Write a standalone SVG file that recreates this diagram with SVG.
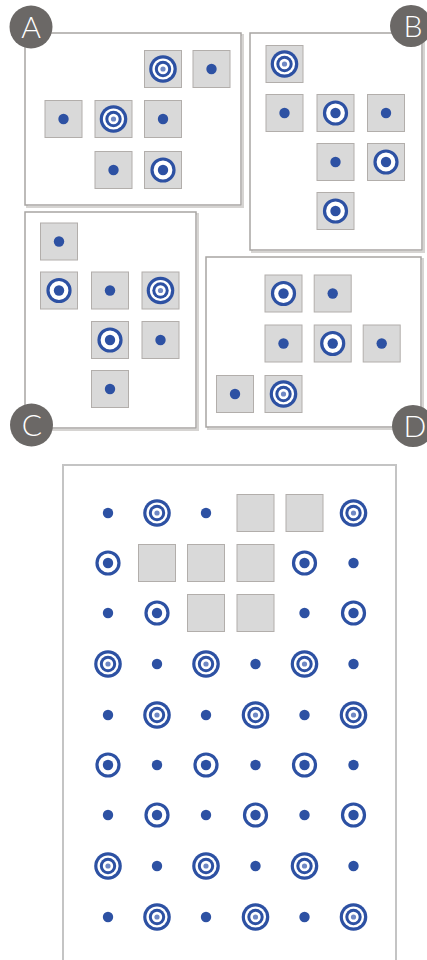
<svg xmlns="http://www.w3.org/2000/svg" xmlns:xlink="http://www.w3.org/1999/xlink" width="427" height="960" viewBox="0 0 427 960">
<style>
.frame{fill:#fff;stroke:#a8a5a3;stroke-width:1.5}
.shadow{fill:none;stroke:#d6d4d2;stroke-width:2}
.sq{fill:#d9d9d9;stroke:#b2aeab;stroke-width:1}
.badge{fill:#6b6866}
.lbl{fill:#fff;font-family:Lato,"Open Sans",sans-serif;font-size:30px;font-weight:300;text-anchor:middle}
.big{fill:#fff;stroke:#c4c4c4;stroke-width:2}
</style>
<defs>
<g id="dot"><circle r="5.2" fill="#2d51a3"/></g>
<g id="tgt"><circle r="11" fill="#fff" stroke="#2d51a3" stroke-width="3.2"/><circle r="5.2" fill="#2d51a3"/></g>
<g id="tri"><circle r="13.8" fill="#2d51a3"/><circle r="10.6" fill="#fff"/><circle r="8.2" fill="#2d51a3"/><circle r="5.2" fill="#fff"/><circle r="2.6" fill="#6f88c4"/></g>
<rect id="sq" x="-18.5" y="-18.5" width="37" height="37" class="sq"/>
</defs>

<!-- Panel A -->
<g id="panelA">
<rect x="27" y="35" width="216" height="172" class="shadow"/>
<rect x="25" y="33" width="216" height="172" class="frame"/>
<g id="A1" transform="translate(163,69)"><use href="#sq"/><use href="#tri"/></g>
<g id="A2" transform="translate(211.5,69)"><use href="#sq"/><use href="#dot"/></g>
<g id="A3" transform="translate(63.5,119)"><use href="#sq"/><use href="#dot"/></g>
<g id="A4" transform="translate(113.5,119)"><use href="#sq"/><use href="#tri"/></g>
<g id="A5" transform="translate(163,119)"><use href="#sq"/><use href="#dot"/></g>
<g id="A6" transform="translate(113.5,170)"><use href="#sq"/><use href="#dot"/></g>
<g id="A7" transform="translate(163,170)"><use href="#sq"/><use href="#tgt"/></g>
<g id="badgeA"><circle cx="31" cy="27" r="21.5" class="badge"/><text x="31" y="38" class="lbl">A</text></g>
</g>

<!-- Panel B -->
<g id="panelB">
<rect x="252" y="35" width="172" height="217" class="shadow"/>
<rect x="250" y="33" width="172" height="217" class="frame"/>
<g id="B1" transform="translate(284.5,64)"><use href="#sq"/><use href="#tri"/></g>
<g id="B2" transform="translate(284.5,113)"><use href="#sq"/><use href="#dot"/></g>
<g id="B3" transform="translate(335.5,113)"><use href="#sq"/><use href="#tgt"/></g>
<g id="B4" transform="translate(386,113)"><use href="#sq"/><use href="#dot"/></g>
<g id="B5" transform="translate(335.5,162)"><use href="#sq"/><use href="#dot"/></g>
<g id="B6" transform="translate(386,162)"><use href="#sq"/><use href="#tgt"/></g>
<g id="B7" transform="translate(335.5,211)"><use href="#sq"/><use href="#tgt"/></g>
<g id="badgeB"><circle cx="411" cy="26" r="21" class="badge"/><text x="413" y="37" class="lbl">B</text></g>
</g>

<!-- Panel C -->
<g id="panelC">
<rect x="27" y="214" width="171" height="216" class="shadow"/>
<rect x="25" y="212" width="171" height="216" class="frame"/>
<g id="C1" transform="translate(59,241.5)"><use href="#sq"/><use href="#dot"/></g>
<g id="C2" transform="translate(59,290.5)"><use href="#sq"/><use href="#tgt"/></g>
<g id="C3" transform="translate(110,290.5)"><use href="#sq"/><use href="#dot"/></g>
<g id="C4" transform="translate(160.5,290.5)"><use href="#sq"/><use href="#tri"/></g>
<g id="C5" transform="translate(110,340)"><use href="#sq"/><use href="#tgt"/></g>
<g id="C6" transform="translate(160.5,340)"><use href="#sq"/><use href="#dot"/></g>
<g id="C7" transform="translate(110,389)"><use href="#sq"/><use href="#dot"/></g>
<g id="badgeC"><circle cx="31.5" cy="425" r="21.5" class="badge"/><text x="32" y="436" class="lbl">C</text></g>
</g>

<!-- Panel D -->
<g id="panelD">
<rect x="208" y="259" width="215" height="170" class="shadow"/>
<rect x="206" y="257" width="215" height="170" class="frame"/>
<g id="D1" transform="translate(283.5,293.5)"><use href="#sq"/><use href="#tgt"/></g>
<g id="D2" transform="translate(332.7,293.5)"><use href="#sq"/><use href="#dot"/></g>
<g id="D3" transform="translate(283.5,343.5)"><use href="#sq"/><use href="#dot"/></g>
<g id="D4" transform="translate(332.7,343.5)"><use href="#sq"/><use href="#tgt"/></g>
<g id="D5" transform="translate(381.7,343.5)"><use href="#sq"/><use href="#dot"/></g>
<g id="D6" transform="translate(235,394)"><use href="#sq"/><use href="#dot"/></g>
<g id="D7" transform="translate(283.5,394)"><use href="#sq"/><use href="#tri"/></g>
<g id="badgeD"><circle cx="413" cy="426" r="21" class="badge"/><text x="415" y="437" class="lbl">D</text></g>
</g>

<!-- Bottom grid -->
<g id="grid">
<rect x="63" y="465" width="333" height="510" class="big"/>
<g id="r1">
<use href="#dot" x="108" y="513"/><use href="#tri" x="157" y="513"/><use href="#dot" x="206" y="513"/>
<use href="#sq" x="255.5" y="513"/><use href="#sq" x="304.5" y="513"/><use href="#tri" x="353.5" y="513"/>
</g>
<g id="r2">
<use href="#tgt" x="108" y="563"/><use href="#sq" x="157" y="563"/><use href="#sq" x="206" y="563"/>
<use href="#sq" x="255.5" y="563"/><use href="#tgt" x="304.5" y="563"/><use href="#dot" x="353.5" y="563"/>
</g>
<g id="r3">
<use href="#dot" x="108" y="613"/><use href="#tgt" x="157" y="613"/><use href="#sq" x="206" y="613"/>
<use href="#sq" x="255.5" y="613"/><use href="#dot" x="304.5" y="613"/><use href="#tgt" x="353.5" y="613"/>
</g>
<g id="r4">
<use href="#tri" x="108" y="664"/><use href="#dot" x="157" y="664"/><use href="#tri" x="206" y="664"/>
<use href="#dot" x="255.5" y="664"/><use href="#tri" x="304.5" y="664"/><use href="#dot" x="353.5" y="664"/>
</g>
<g id="r5">
<use href="#dot" x="108" y="715"/><use href="#tri" x="157" y="715"/><use href="#dot" x="206" y="715"/>
<use href="#tri" x="255.5" y="715"/><use href="#dot" x="304.5" y="715"/><use href="#tri" x="353.5" y="715"/>
</g>
<g id="r6">
<use href="#tgt" x="108" y="765"/><use href="#dot" x="157" y="765"/><use href="#tgt" x="206" y="765"/>
<use href="#dot" x="255.5" y="765"/><use href="#tgt" x="304.5" y="765"/><use href="#dot" x="353.5" y="765"/>
</g>
<g id="r7">
<use href="#dot" x="108" y="815"/><use href="#tgt" x="157" y="815"/><use href="#dot" x="206" y="815"/>
<use href="#tgt" x="255.5" y="815"/><use href="#dot" x="304.5" y="815"/><use href="#tgt" x="353.5" y="815"/>
</g>
<g id="r8">
<use href="#tri" x="108" y="866"/><use href="#dot" x="157" y="866"/><use href="#tri" x="206" y="866"/>
<use href="#dot" x="255.5" y="866"/><use href="#tri" x="304.5" y="866"/><use href="#dot" x="353.5" y="866"/>
</g>
<g id="r9">
<use href="#dot" x="108" y="917"/><use href="#tri" x="157" y="917"/><use href="#dot" x="206" y="917"/>
<use href="#tri" x="255.5" y="917"/><use href="#dot" x="304.5" y="917"/><use href="#tri" x="353.5" y="917"/>
</g>
</g>
<g id="connectors"/>
</svg>
